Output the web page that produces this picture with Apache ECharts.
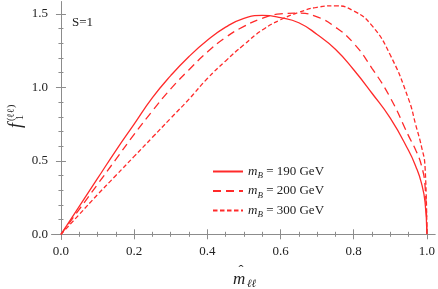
<!DOCTYPE html>
<html>
<head>
<meta charset="utf-8">
<script src="https://cdn.jsdelivr.net/npm/echarts@6/dist/echarts.min.js"></script>
<style>
  html, body { margin: 0; padding: 0; background: #fff; }
  #chart { width: 438px; height: 289px; }
</style>
</head>
<body>
<div id="chart"></div>
<script>
// sample points along m_ll (x axis)
const xs = [0, 0.05, 0.1, 0.15, 0.2, 0.25, 0.3, 0.35, 0.4, 0.45, 0.5, 0.55, 0.6, 0.65, 0.7, 0.75, 0.8, 0.85, 0.9, 0.95, 0.97, 0.985, 0.995, 1.0];

// f_1^(ll) for each m_B
const f190 = [0, 0.19, 0.38, 0.57, 0.75, 0.93, 1.08, 1.21, 1.32, 1.41, 1.47, 1.49, 1.475, 1.44, 1.36, 1.26, 1.12, 0.96, 0.79, 0.57, 0.46, 0.35, 0.22, 0];
const f200 = [0, 0.17, 0.34, 0.51, 0.68, 0.84, 0.99, 1.12, 1.24, 1.34, 1.415, 1.47, 1.50, 1.505, 1.48, 1.41, 1.30, 1.13, 0.93, 0.67, 0.57, 0.47, 0.33, 0];
const f300 = [0, 0.135, 0.27, 0.40, 0.53, 0.66, 0.79, 0.92, 1.06, 1.18, 1.29, 1.39, 1.46, 1.51, 1.545, 1.555, 1.52, 1.42, 1.22, 0.92, 0.74, 0.60, 0.46, 0];

const masses = [190, 200, 300];

// tick values
const xMajor = [0, 0.2, 0.4, 0.6, 0.8, 1.0];
const xMinor = [0.05, 0.1, 0.15, 0.25, 0.3, 0.35, 0.45, 0.5, 0.55, 0.65, 0.7, 0.75, 0.85, 0.9, 0.95];
const yMajor = [0, 0.5, 1.0, 1.5];
const yMinor = [0.1, 0.2, 0.3, 0.4, 0.6, 0.7, 0.8, 0.9, 1.1, 1.2, 1.3, 1.4];

const FONT = '"Liberation Serif", "Times New Roman", serif';
const RED = '#ff2a2a';
const FRAME = '#8c8c8c';

const X_MIN = -0.0245, X_MAX = 1.0217;
const Y_MIN = -0.032, Y_MAX = 1.581;

const chart = echarts.init(document.getElementById('chart'));

// one axis per side and tick size (major / minor)
function xAx(pos, ticks, len, labels) {
  return {
    type: 'value', position: pos, min: X_MIN, max: X_MAX,
    axisLine: { show: true, lineStyle: { color: FRAME, width: 1 } },
    axisTick: { show: true, inside: true, length: len, customValues: ticks, lineStyle: { color: FRAME } },
    axisLabel: labels ? {
      show: true, customValues: ticks, margin: 6,
      formatter: v => v.toFixed(1),
      fontFamily: FONT, fontSize: 13, color: '#222'
    } : { show: false },
    splitLine: { show: false }
  };
}
function yAx(pos, ticks, len, labels) {
  return {
    type: 'value', position: pos, min: Y_MIN, max: Y_MAX,
    axisLine: { show: true, lineStyle: { color: FRAME, width: 1 } },
    axisTick: { show: true, inside: true, length: len, customValues: ticks, lineStyle: { color: FRAME } },
    axisLabel: labels ? {
      show: true, customValues: ticks, margin: 4,
      formatter: v => v.toFixed(1),
      fontFamily: FONT, fontSize: 13, color: '#222'
    } : { show: false },
    splitLine: { show: false }
  };
}

const seriesData = [f190, f200, f300];
const dashes = ['solid', [8, 5], [4.5, 2.5]];
const names = masses.map(m => 'mB = ' + m + ' GeV');

chart.setOption({
  animation: false,
  backgroundColor: '#fff',
  grid: { left: 52, right: 1, top: 2, bottom: 50 },
  xAxis: [
    xAx('bottom', xMajor, 5, true),
    xAx('bottom', xMinor, 2.5, false),
    xAx('top', xMajor, 5, false),
    xAx('top', xMinor, 2.5, false)
  ],
  yAxis: [
    yAx('left', yMajor, 5, true),
    yAx('left', yMinor, 2.5, false),
    yAx('right', yMajor, 5, false),
    yAx('right', yMinor, 2.5, false)
  ],
  legend: {
    orient: 'vertical',
    left: 207, top: 160,
    itemWidth: 30, itemHeight: 14, itemGap: 4,
    itemStyle: { opacity: 0 },
    data: names,
    formatter: name => {
      const m = name.match(/\d+/)[0];
      return '{m|m}{b|B}{t| = ' + m + ' GeV}';
    },
    textStyle: {
      fontFamily: FONT, fontSize: 13, color: '#222',
      rich: {
        m: { fontFamily: FONT, fontStyle: 'italic', fontSize: 13, lineHeight: 18 },
        b: { fontFamily: FONT, fontStyle: 'italic', fontSize: 9, lineHeight: 9, verticalAlign: 'bottom' },
        t: { fontFamily: FONT, fontSize: 13, lineHeight: 18 }
      }
    }
  },
  graphic: [
    {
      type: 'text', x: 72, y: 23,
      style: { text: 'S=1', font: '13px ' + FONT, fill: '#222', align: 'left', verticalAlign: 'middle' }
    },
    {
      // y axis title, rotated
      type: 'group', x: 15, y: 121, rotation: Math.PI / 2,
      children: [
        { type: 'text', x: -2, y: 1, style: { text: 'f', font: 'italic 18px ' + FONT, fill: '#222', align: 'right', verticalAlign: 'middle' } },
        { type: 'text', x: 0, y: -4, style: { text: '(ℓℓ)', font: '10px ' + FONT, fill: '#222', align: 'left', verticalAlign: 'middle' } },
        { type: 'text', x: 1, y: 5, style: { text: '1', font: '10px ' + FONT, fill: '#222', align: 'left', verticalAlign: 'middle' } }
      ]
    },
    {
      // x axis title
      type: 'group', x: 233, y: 280,
      children: [
        { type: 'text', x: 0, y: 0, style: { text: 'm', font: 'italic 17px ' + FONT, fill: '#222', align: 'left', verticalAlign: 'middle' } },
        { type: 'text', x: 8, y: -9, style: { text: 'ˆ', font: '15px ' + FONT, fill: '#222', align: 'center', verticalAlign: 'middle' } },
        { type: 'text', x: 14, y: 4, style: { text: 'ℓℓ', font: 'italic 11px ' + FONT, fill: '#222', align: 'left', verticalAlign: 'middle' } }
      ]
    }
  ],
  series: seriesData.map((ys, i) => ({
    name: names[i],
    type: 'line',
    xAxisIndex: 0,
    yAxisIndex: 0,
    data: xs.map((x, j) => [x, ys[j]]),
    showSymbol: false,
    symbol: 'none',
    smooth: 0.5,
    lineStyle: { color: RED, width: 1.3, type: dashes[i] },
    itemStyle: { color: RED }
  }))
});
</script>
</body>
</html>
